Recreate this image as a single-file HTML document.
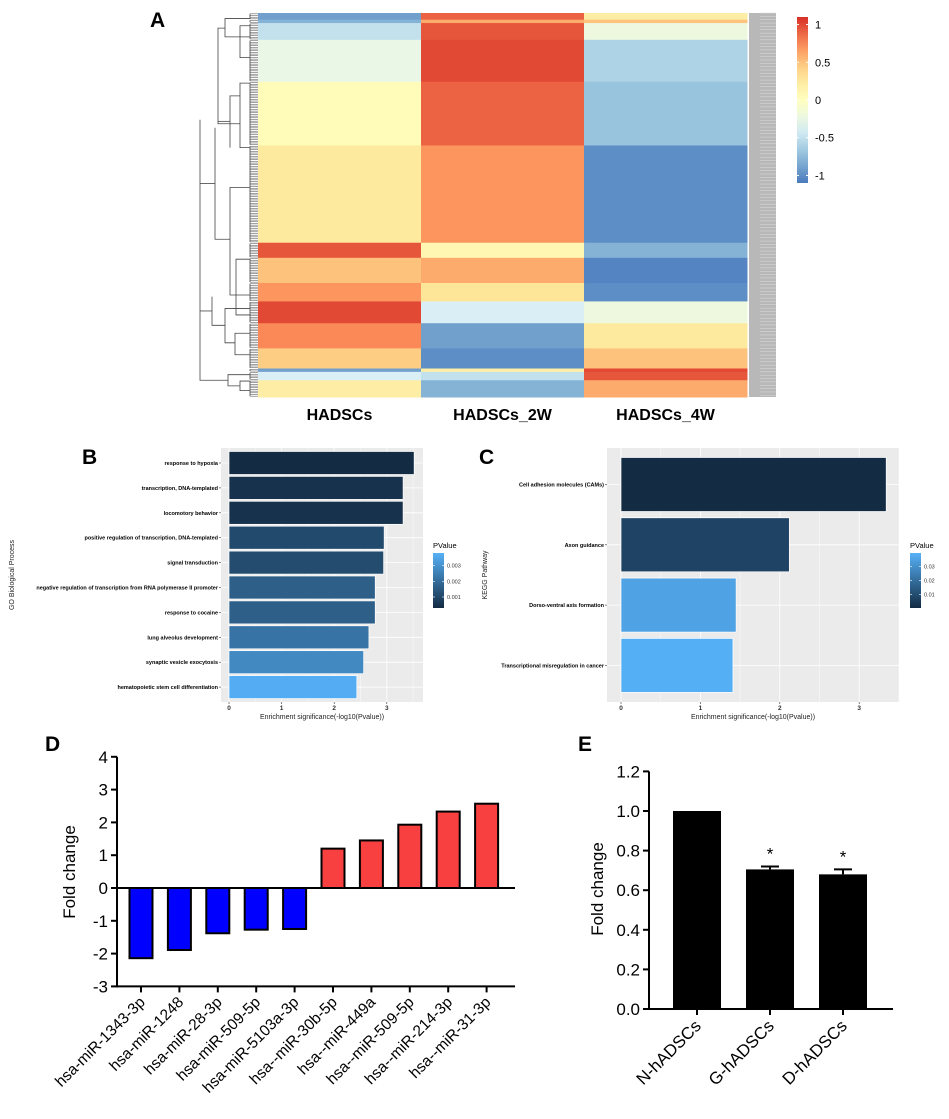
<!DOCTYPE html>
<html><head><meta charset="utf-8"><style>
html,body{margin:0;padding:0;background:#fff;}
svg{display:block;font-family:"Liberation Sans",Arial,sans-serif;}
</style></head><body>
<svg id="fig" width="949" height="1119" viewBox="0 0 949 1119" xmlns="http://www.w3.org/2000/svg">
<g id="gA"></g>
<g id="gB"></g>
<g id="gC"></g>
<g id="gD"></g>
<g id="gE"></g>
</svg>
<script>
// ===== Panel A data =====
const heatSamples = ["HADSCs","HADSCs_2W","HADSCs_4W"];
const heatBlockRows = [4,2,10,25,38,58,9,15,11,13,15,12,2,5,10];
const heatCol1 = [-0.9,-0.8,-0.5,-0.25,0.05,0.25,0.95,0.5,0.7,1.0,0.75,0.45,-0.9,-0.4,0.2];
const heatCol2 = [0.9,0.6,0.95,1.0,0.9,0.7,0.1,0.6,0.3,-0.4,-0.9,-1.0,0.2,-0.5,-0.8];
const heatCol3 = [0.2,0.5,-0.2,-0.6,-0.7,-1.0,-0.8,-1.05,-1.0,-0.2,0.25,0.5,1.0,0.95,0.6];
const heatLegendTicks = [1,0.5,0,-0.5,-1];
// ===== Panel B data =====
const goTerms = ["response to hypoxia","transcription, DNA-templated","locomotory behavior","positive regulation of transcription, DNA-templated","signal transduction","negative regulation of transcription from RNA polymerase II promoter","response to cocaine","lung alveolus development","synaptic vesicle exocytosis","hematopoietic stem cell differentiation"];
const goValues = [3.52,3.31,3.31,2.95,2.94,2.78,2.78,2.66,2.56,2.43];
const goPvals = [0.0003,0.00049,0.00049,0.0011,0.00115,0.00166,0.00166,0.0022,0.00275,0.0037];
const goXTicks = [0,1,2,3];
const goLegendTicks = [0.001,0.002,0.003];
// ===== Panel C data =====
const keggTerms = ["Cell adhesion molecules (CAMs)","Axon guidance","Dorso-ventral axis formation","Transcriptional misregulation in cancer"];
const keggValues = [3.34,2.12,1.45,1.41];
const keggPvals = [0.00046,0.0076,0.0355,0.039];
const keggXTicks = [0,1,2,3];
const keggLegendTicks = [0.01,0.02,0.03];
// ===== Panel D data =====
const mirNames = ["hsa-miR-1343-3p","hsa-miR-1248","hsa-miR-28-3p","hsa-miR-509-5p","hsa-miR-5103a-3p","hsa--miR-30b-5p","hsa--miR-449a","hsa--miR-509-5p","hsa--miR-214-3p","hsa--miR-31-3p"];
const mirFold = [-2.14,-1.89,-1.38,-1.27,-1.25,1.2,1.45,1.93,2.33,2.57];
const mirYTicks = [4,3,2,1,0,-1,-2,-3];
// ===== Panel E data =====
const groupNames = ["N-hADSCs","G-hADSCs","D-hADSCs"];
const groupFold = [1.0,0.705,0.68];
const groupErr = [0,0.015,0.025];
const groupSig = [false,true,true];
const eYTicks = [0,0.2,0.4,0.6,0.8,1.0,1.2];

const NS="http://www.w3.org/2000/svg";
function mk(parent,tag,attrs,text){const e=document.createElementNS(NS,tag);for(const k in attrs)e.setAttribute(k,attrs[k]);if(text!==undefined)e.textContent=text;parent.appendChild(e);return e;}
function hex(c){return [parseInt(c.slice(1,3),16),parseInt(c.slice(3,5),16),parseInt(c.slice(5,7),16)];}
function lerpCol(a,b,t){const A=hex(a),B=hex(b);return "rgb("+A.map((v,i)=>Math.round(v+(B[i]-v)*t)).join(",")+")";}
const rdylbu=["#4a7bbd","#91bfdb","#e0f3f8","#ffffbf","#fee090","#fc8d59","#d73027"];
function heatColor(v){v=Math.max(-1.1,Math.min(1.1,v));let t=(v+1.1)/2.2*(rdylbu.length-1);let i=Math.min(rdylbu.length-2,Math.floor(t));return lerpCol(rdylbu[i],rdylbu[i+1],t-i);}
function ggColor(p,lo,hi){return lerpCol("#132b43","#56b1f7",Math.max(0,Math.min(1,(p-lo)/(hi-lo))));}

// ===== Panel A =====
(function(){
const g=document.getElementById("gA");
let t=mk(g,"text",{x:150,y:27,"font-size":21,"font-weight":"bold"},"A");


const top=13,bot=397,left=258,colW=163;
const total=heatBlockRows.reduce((a,b)=>a+b,0);
const yRow=r=>top+(bot-top)*r/total;
const cols=[heatCol1,heatCol2,heatCol3];
let r0=0;
heatBlockRows.forEach((n,bi)=>{
  cols.forEach((col,ci)=>{
    const rc=mk(g,"rect",{x:left+ci*colW,y:yRow(r0),width:colW+0.5,height:yRow(r0+n)-yRow(r0)+0.5,fill:heatColor(col[bi])});
    
    
  });
  r0+=n;
});
// row label strip
const strip=mk(g,"rect",{x:749,y:top,width:27,height:bot-top,fill:"#b8b8b8"});


for(let r=0;r<total;r+=2){mk(g,"line",{x1:760,x2:776,y1:yRow(r),y2:yRow(r),stroke:"#ddd","stroke-width":0.5});}
// dendrogram (decorative)
const dg=mk(g,"g",{stroke:"#444","stroke-width":0.8,fill:"none"});


let leafStart=0;
heatBlockRows.forEach(n=>{for(let k=0;k<n;k++){const y=yRow(leafStart+k+0.5);mk(dg,"line",{x1:250,x2:258,y1:y,y2:y,"stroke-width":0.5});}mk(dg,"line",{x1:250,x2:250,y1:yRow(leafStart+0.5),y2:yRow(leafStart+n-0.5)});leafStart+=n;});
const k=(bot-top)/482;
const tg=mk(dg,"g",{transform:"translate(0,"+(top-16*k)+") scale(1,"+k+")"});
const paths=["M250 23 H225 V46 H250","M225 35 H218 V155 H240","M250 32 H240 V72 H250","M250 104 H240 V185 H250","M240 120 H230 V185","M230 152 H218",
"M250 235 H230 V370 H250","M230 300 H215 V160","M215 230 H200","M200 150 V445",
"M250 325 H236 V395 H250","M250 418 H235 V445 H250","M250 387 H225 V430 H235","M225 408 H212 V372","M212 390 H200",
"M250 478 H240 V490 H250","M250 470 H228 V484 H240","M228 477 H200 V445"];
paths.forEach(d=>mk(tg,"path",{d:d,"vector-effect":"non-scaling-stroke"}));
// column labels
heatSamples.forEach((s,i)=>{const e=mk(g,"text",{x:left+colW*(i+0.5),y:420,"font-size":16,"font-weight":"bold","text-anchor":"middle"},s);

});
// color legend
const lx=797,ly0=17,ly1=183;
const defs=mk(g,"defs",{});const lg=mk(defs,"linearGradient",{id:"hg",x1:0,y1:1,x2:0,y2:0});
for(let i=0;i<=10;i++){mk(lg,"stop",{offset:i/10,"stop-color":heatColor(-1.1+2.2*i/10)});}
const lr=mk(g,"rect",{x:lx,y:ly0,width:11,height:ly1-ly0,fill:"url(#hg)"});


const lyv=v=>ly1-(v+1.1)/2.2*(ly1-ly0);
heatLegendTicks.forEach(v=>{mk(g,"line",{x1:lx,x2:lx+2,y1:lyv(v),y2:lyv(v),stroke:"#fff"});mk(g,"line",{x1:lx+9,x2:lx+11,y1:lyv(v),y2:lyv(v),stroke:"#fff"});
const e=mk(g,"text",{x:815,y:lyv(v)+4,"font-size":11},String(v));

});
})();

// ===== ggplot bar chart helper =====
function ggChart(gid,o){
const g=document.getElementById(gid);
const L=mk(g,"text",{x:o.labelX,y:464,"font-size":21,"font-weight":"bold"},o.letter);


const bg=mk(g,"rect",{x:o.px0,y:448,width:o.px1-o.px0,height:254,fill:"#ebebeb"});


const xs=v=>o.x0+v*o.unit;
o.ticks.forEach(v=>{mk(g,"line",{x1:xs(v),x2:xs(v),y1:448,y2:702,stroke:"#fff","stroke-width":0.8});
mk(g,"line",{x1:xs(v+0.5),x2:xs(v+0.5),y1:448,y2:702,stroke:"#fff","stroke-width":0.4});
mk(g,"line",{x1:xs(v),x2:xs(v),y1:702,y2:704,stroke:"#333","stroke-width":0.6});
const e=mk(g,"text",{x:xs(v),y:710,"font-size":6.5,"font-weight":"bold","text-anchor":"middle",fill:"#333"},String(v));

});
mk(g,"line",{x1:xs(-0.5),x2:xs(-0.5),y1:448,y2:702,stroke:"#fff","stroke-width":0.4});
o.terms.forEach((t,i)=>{const cy=o.yc0+i*o.step;
mk(g,"line",{x1:o.px0,x2:o.px1,y1:cy,y2:cy,stroke:"#fff","stroke-width":0.8});
const b=mk(g,"rect",{x:xs(0),y:cy-o.bh/2,width:xs(o.values[i])-xs(0),height:o.bh,fill:ggColor(o.pvals[i],o.plo,o.phi),stroke:"#fff","stroke-width":0.7});


mk(g,"line",{x1:o.px0-2,x2:o.px0,y1:cy,y2:cy,stroke:"#333","stroke-width":0.6});
const e=mk(g,"text",{x:o.px0-3,y:cy+2,"font-size":5.5,"font-weight":"bold","text-anchor":"end"},t);

});
const xt=mk(g,"text",{x:(o.px0+o.px1)/2,y:719,"font-size":7,"text-anchor":"middle",fill:"#222"},"Enrichment significance(-log10(Pvalue))");


const yt=mk(g,"text",{x:o.ytX,y:575,"font-size":7,"text-anchor":"middle",transform:"rotate(-90 "+o.ytX+" 575)",fill:"#222"},o.ytitle);


const defs=mk(g,"defs",{});const lg=mk(defs,"linearGradient",{id:gid+"grad",x1:0,y1:1,x2:0,y2:0});
mk(lg,"stop",{offset:0,"stop-color":"#132b43"});mk(lg,"stop",{offset:1,"stop-color":"#56b1f7"});
const lr=mk(g,"rect",{x:o.lgX,y:553,width:11,height:55,fill:"url(#"+gid+"grad)"});


const lt=mk(g,"text",{x:o.lgX,y:548,"font-size":7.5},"PValue");


const ly=p=>608-(p-o.plo)/(o.phi-o.plo)*55;
o.lticks.forEach(p=>{mk(g,"line",{x1:o.lgX,x2:o.lgX+2,y1:ly(p),y2:ly(p),stroke:"#fff","stroke-width":0.6});mk(g,"line",{x1:o.lgX+9,x2:o.lgX+11,y1:ly(p),y2:ly(p),stroke:"#fff","stroke-width":0.6});
const e=mk(g,"text",{x:o.lgX+14,y:ly(p)+2,"font-size":5.5,fill:"#333"},String(p));

});
}
ggChart("gB",{letter:"B",labelX:82,px0:221,px1:423,x0:229,unit:52.6,ticks:goXTicks,terms:goTerms,values:goValues,pvals:goPvals,plo:0.0003,phi:0.0038,yc0:463,step:24.9,bh:23,ytX:14,ytitle:"GO Biological Process",lgX:433,lticks:goLegendTicks});
ggChart("gC",{letter:"C",labelX:479,px0:607,px1:899,x0:621,unit:79.4,ticks:keggXTicks,terms:keggTerms,values:keggValues,pvals:keggPvals,plo:0.00046,phi:0.0397,yc0:484.5,step:60.3,bh:54,ytX:487,ytitle:"KEGG Pathway",lgX:910,lticks:keggLegendTicks});

// ===== Panel D =====
(function(){
const g=document.getElementById("gD");
const L=mk(g,"text",{x:45,y:751,"font-size":21,"font-weight":"bold"},"D");


const ax=117,y0=888,unit=32.8,xEnd=515;
const ys=v=>y0-v*unit;
const cx=i=>ax+24+i*38.4;
mirNames.forEach((m,i)=>{const v=mirFold[i];
const b=mk(g,"rect",{x:cx(i)-11.5,y:Math.min(ys(v),ys(0)),width:23,height:Math.abs(ys(v)-ys(0)),fill:v<0?"#0000ff":"#f84040",stroke:"#000","stroke-width":2});


mk(g,"line",{x1:cx(i),x2:cx(i),y1:ys(-3),y2:ys(-3)+6,stroke:"#000","stroke-width":2});
const e=mk(g,"text",{x:cx(i)+5,y:1003,"font-size":15.5,"text-anchor":"end",transform:"rotate(-45 "+(cx(i)+5)+" 1003)"},m);

});
mk(g,"line",{x1:ax,x2:ax,y1:ys(4),y2:ys(-3)+1,stroke:"#000","stroke-width":2});
mk(g,"line",{x1:ax,x2:xEnd,y1:ys(-3),y2:ys(-3),stroke:"#000","stroke-width":2});
mk(g,"line",{x1:ax,x2:xEnd,y1:ys(0),y2:ys(0),stroke:"#000","stroke-width":2});
mirYTicks.forEach(v=>{mk(g,"line",{x1:ax-6,x2:ax,y1:ys(v),y2:ys(v),stroke:"#000","stroke-width":2});
const e=mk(g,"text",{x:ax-9,y:ys(v)+6,"font-size":17,"text-anchor":"end"},String(v));

});
const yt=mk(g,"text",{x:75,y:872,"font-size":17,"text-anchor":"middle",transform:"rotate(-90 75 872)"},"Fold change");


})();

// ===== Panel E =====
(function(){
const g=document.getElementById("gE");
const L=mk(g,"text",{x:578,y:751,"font-size":21,"font-weight":"bold"},"E");


const ax=649,y0=1009,unit=198,xEnd=893;
const ys=v=>y0-v*unit;
const cx=i=>697+i*73;
groupNames.forEach((n,i)=>{const v=groupFold[i];
const b=mk(g,"rect",{x:cx(i)-24,y:ys(v),width:48,height:ys(0)-ys(v),fill:"#000"});


if(groupErr[i]>0){mk(g,"line",{x1:cx(i),x2:cx(i),y1:ys(v),y2:ys(v+groupErr[i]),stroke:"#000","stroke-width":2});
mk(g,"line",{x1:cx(i)-9,x2:cx(i)+9,y1:ys(v+groupErr[i]),y2:ys(v+groupErr[i]),stroke:"#000","stroke-width":2});}
if(groupSig[i]){const s=mk(g,"text",{x:cx(i),y:ys(v+groupErr[i])-7,"font-size":17,"text-anchor":"middle"},"*");

}
mk(g,"line",{x1:cx(i),x2:cx(i),y1:y0,y2:y0+6,stroke:"#000","stroke-width":2});
const e=mk(g,"text",{x:cx(i)+5,y:1027,"font-size":17,"text-anchor":"end",transform:"rotate(-45 "+(cx(i)+5)+" 1027)"},n);

});
mk(g,"line",{x1:ax,x2:ax,y1:ys(1.2),y2:y0+1,stroke:"#000","stroke-width":2});
mk(g,"line",{x1:ax,x2:xEnd,y1:y0,y2:y0,stroke:"#000","stroke-width":2});
eYTicks.forEach(v=>{mk(g,"line",{x1:ax-6,x2:ax,y1:ys(v),y2:ys(v),stroke:"#000","stroke-width":2});
const e=mk(g,"text",{x:ax-9,y:ys(v)+6,"font-size":17,"text-anchor":"end"},v.toFixed(1));

});
const yt=mk(g,"text",{x:603,y:889,"font-size":17,"text-anchor":"middle",transform:"rotate(-90 603 889)"},"Fold change");


})();
</script>
</body></html>
